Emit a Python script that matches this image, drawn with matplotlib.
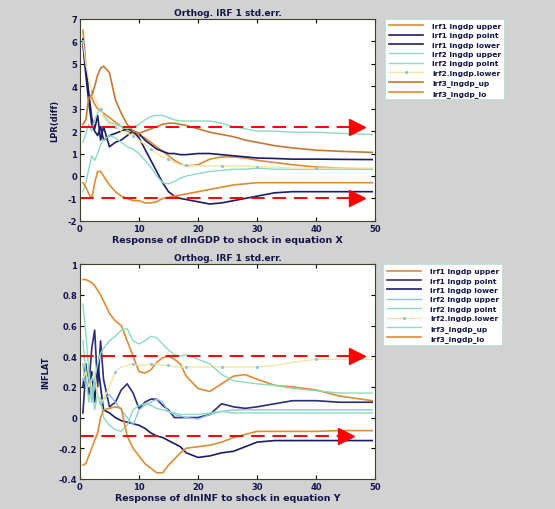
import numpy as np
import matplotlib
matplotlib.use('Agg')
import matplotlib.pyplot as plt

# periods (shared by all series)
steps = [0.5, 1, 1.5, 2, 2.5, 3, 3.5, 4, 5, 6, 7, 8, 9, 10, 11, 12, 13, 14, 15, 16,
         17, 18, 20, 22, 24, 26, 28, 30, 33, 36, 40, 44, 49.5]

labels = ['lrf1 lngdp upper', 'irf1 lngdp point', 'irf1 lngdp lower',
          'lrf2 lngdp upper', 'irf2 lngdp point', 'irf2.lngdp.lower',
          'irf3_lngdp_up', 'irf3_lngdp_lo']

# top panel: response to shock in equation X
top_o1 = [6.5, 5.0, 3.6, 3.5, 3.2, 3.0, 2.9, 2.8, 2.6, 2.4, 2.2, 2.0, 1.9, 1.8, 1.7, 1.5, 1.3,
          1.1, 0.9, 0.7, 0.55, 0.45, 0.5, 0.75, 0.85, 0.85, 0.8, 0.7, 0.6, 0.5, 0.4, 0.35, 0.3]
top_n1 = [6.1, 4.8, 3.7, 2.6, 2.1, 2.7, 1.6, 2.2, 1.3, 1.5, 1.6, 1.8, 2.0, 1.9, 1.6, 1.4, 1.2,
          1.1, 1.0, 1.0, 0.95, 0.95, 1.0, 1.0, 0.95, 0.9, 0.85, 0.8, 0.78, 0.75, 0.75, 0.74, 0.73]
top_n2 = [5.9, 4.5, 3.3, 2.3, 2.0, 1.8, 2.2, 1.6, 1.8, 1.9, 2.0, 2.1, 2.0, 1.7, 1.2, 0.7, 0.2,
          -0.3, -0.7, -0.9, -1.0, -1.05, -1.15, -1.25, -1.2, -1.1, -1.0, -0.9, -0.75, -0.7, -0.7, -0.7, -0.7]
top_t1 = [1.5, 1.9, 2.3, 2.0, 2.5, 2.8, 3.0, 2.7, 2.4, 2.3, 2.2, 2.1, 2.2, 2.3, 2.5, 2.65, 2.7,
          2.7, 2.6, 2.5, 2.45, 2.45, 2.45, 2.45, 2.35, 2.2, 2.1, 2.0, 2.0, 1.95, 1.95, 1.9, 1.85]
top_t2 = [-0.7, -0.3, 0.3, 0.9, 0.7, 1.0, 1.4, 1.6, 1.8, 1.7, 1.5, 1.3, 1.2, 1.0, 0.7, 0.4, 0.0,
          -0.3, -0.35, -0.25, -0.1, 0.0, 0.1, 0.2, 0.25, 0.3, 0.3, 0.35, 0.3, 0.3, 0.3, 0.3, 0.3]
top_y1 = [6.0, 5.0, 4.3, 3.8, 3.5, 3.2, 3.0, 2.6, 2.3, 2.2, 2.0, 1.9, 1.8, 1.6, 1.4, 1.2, 1.0,
          0.85, 0.75, 0.6, 0.5, 0.5, 0.45, 0.45, 0.45, 0.45, 0.45, 0.4, 0.4, 0.35, 0.35, 0.35, 0.35]
top_o2 = [2.3, 2.5, 3.5, 3.6, 4.0, 4.5, 4.8, 4.9, 4.6, 3.4, 2.8, 2.3, 2.0, 1.9, 2.0, 2.1, 2.2,
          2.3, 2.35, 2.35, 2.3, 2.25, 2.1, 1.95, 1.85, 1.75, 1.6, 1.5, 1.35, 1.25, 1.15, 1.1, 1.05]
top_o3 = [-0.3, -0.5, -0.8, -1.0, -0.3, 0.2, 0.2, 0.0, -0.4, -0.7, -0.9, -1.0, -1.1, -1.1, -1.2,
          -1.2, -1.15, -1.0, -0.95, -0.9, -0.85, -0.8, -0.7, -0.6, -0.5, -0.4, -0.35, -0.3, -0.3,
          -0.3, -0.3, -0.3, -0.3]

# bottom panel: response to shock in equation Y
bot_o1 = [0.9, 0.9, 0.89, 0.88, 0.86, 0.83, 0.8, 0.76, 0.68, 0.63, 0.6, 0.5, 0.4, 0.3, 0.29, 0.31,
          0.36, 0.39, 0.4, 0.38, 0.35, 0.27, 0.19, 0.17, 0.22, 0.27, 0.28, 0.25, 0.21, 0.2, 0.18, 0.14, 0.11]
bot_n1 = [0.03, 0.3, 0.2, 0.45, 0.57, 0.2, 0.5, 0.25, 0.07, 0.1, 0.18, 0.22, 0.16, 0.06, 0.1, 0.12,
          0.12, 0.08, 0.05, 0.0, 0.0, 0.0, 0.0, 0.02, 0.09, 0.07, 0.06, 0.07, 0.09, 0.11, 0.11, 0.1, 0.1]
bot_n2 = [0.2, 0.35, 0.15, 0.3, 0.1, 0.35, 0.2, 0.05, 0.03, 0.0, -0.02, -0.03, -0.04, -0.05, -0.07,
          -0.1, -0.12, -0.13, -0.15, -0.17, -0.19, -0.23, -0.26, -0.25, -0.23, -0.22, -0.19, -0.16,
          -0.15, -0.15, -0.15, -0.15, -0.15]
bot_b1 = [0.35, 0.2, 0.28, 0.1, 0.22, 0.15, 0.08, 0.12, 0.15, 0.1, 0.05, 0.0, -0.05, 0.05, 0.08, 0.1,
          0.12, 0.1, 0.04, 0.02, 0.01, 0.0, -0.01, 0.02, 0.04, 0.05, 0.05, 0.05, 0.05, 0.05, 0.05, 0.05, 0.05]
bot_t2 = [0.5, 0.3, 0.1, 0.2, 0.05, 0.15, 0.12, 0.0, -0.05, -0.08, -0.09, -0.05, 0.05, 0.08, 0.09,
          0.08, 0.06, 0.05, 0.04, 0.03, 0.02, 0.02, 0.02, 0.03, 0.04, 0.03, 0.03, 0.03, 0.03, 0.03,
          0.03, 0.03, 0.03]
bot_y1 = [0.25, 0.3, 0.2, 0.25, 0.3, 0.15, 0.1, 0.12, 0.2, 0.3, 0.33, 0.34, 0.35, 0.34, 0.34, 0.35,
          0.35, 0.34, 0.34, 0.33, 0.33, 0.33, 0.33, 0.33, 0.33, 0.33, 0.33, 0.33, 0.34, 0.36, 0.38, 0.38, 0.38]
bot_t1 = [0.74, 0.55, 0.3, 0.15, 0.25, 0.35, 0.42, 0.45, 0.5, 0.53, 0.57, 0.58, 0.5, 0.48, 0.5, 0.53,
          0.52, 0.48, 0.44, 0.41, 0.4, 0.41, 0.38, 0.35, 0.28, 0.24, 0.23, 0.22, 0.21, 0.19, 0.175, 0.16, 0.16]
bot_o3 = [-0.31, -0.3, -0.25, -0.2, -0.15, -0.1, 0.0, 0.05, 0.06, 0.07, 0.06, -0.12, -0.2, -0.25,
          -0.3, -0.33, -0.36, -0.36, -0.31, -0.27, -0.23, -0.2, -0.19, -0.18, -0.16, -0.13, -0.11,
          -0.09, -0.09, -0.09, -0.09, -0.085, -0.085]

top_levels = [2.2, -1.0]
top_tips = [48.3, 48.3]
bot_levels = [0.4, -0.12]
bot_tips = [48.3, 46.3]

top_yticks = [7, 6, 5, 4, 3, 2, 1, 0, -1, -2]
bot_yticks = [1, 0.8, 0.6, 0.4, 0.2, 0, -0.2, -0.4]
xticks = [0, 10, 20, 30, 40, 50]

orange = '#e08c34'
navy = '#1c1c6c'
mint = '#8cdcbc'
lblue = '#8cc4e4'
pale = '#f0e8a0'
brown = '#c87830'

top_styles = [dict(color=orange, lw=1.2), dict(color=navy, lw=1.2), dict(color=navy, lw=1.2),
              dict(color=mint, lw=1.0), dict(color=mint, lw=1.0),
              dict(color=pale, lw=1.0, marker='.', markersize=2.5, markeredgecolor=lblue,
                   markerfacecolor=lblue, markevery=3),
              dict(color=brown, lw=1.2), dict(color=orange, lw=1.2)]
bot_styles = [dict(color=orange, lw=1.2), dict(color='#2c2c80', lw=1.2), dict(color=navy, lw=1.2),
              dict(color=lblue, lw=1.0), dict(color=mint, lw=1.0),
              dict(color=pale, lw=1.0, marker='.', markersize=2.5, markeredgecolor=lblue,
                   markerfacecolor=lblue, markevery=3),
              dict(color=mint, lw=1.0), dict(color=orange, lw=1.2)]

fig = plt.figure(figsize=(5.55, 5.10), dpi=100, facecolor='#d2d2d2')
txt = '#14144a'


def panel(rect, series, styles, yticks, levels, tips, xlabel, ylabel, legpos):
    ax = fig.add_axes(rect)
    lines = []
    for s, lab, st in zip(series, labels, styles):
        ln, = ax.plot(steps, s, label=lab, **st)
        lines.append(ln)
    for lev, tip in zip(levels, tips):
        ax.plot([0, tip - 2.6], [lev, lev], color='red', lw=1.4, ls=(0, (7, 4)))
        ax.plot([tip - 1.3], [lev], marker='>', color='red', markersize=11, ls='none')
    ax.set_xlim(0, 50)
    ax.set_ylim(min(yticks), max(yticks))
    ax.set_xticks(xticks)
    ax.set_yticks(yticks)
    ax.set_yticklabels([f'{t:g}' for t in yticks])
    ax.tick_params(direction='in', length=3, labelsize=6, top=True, right=True, pad=2,
                   labelcolor=txt)
    for lab in ax.get_xticklabels() + ax.get_yticklabels():
        lab.set_fontweight('bold')
    ax.set_title('Orthog. IRF 1 std.err.', fontsize=6.5, color=txt, pad=3, fontweight='bold')
    ax.set_xlabel(xlabel, fontsize=6.8, labelpad=2, color=txt, fontweight='bold')
    ax.set_ylabel(ylabel, fontsize=6, color=txt, labelpad=6, fontweight='bold')
    for sp in ax.spines.values():
        sp.set_color('#404030')
        sp.set_linewidth(0.8)
    leg = fig.legend(handles=lines, loc='upper left', bbox_to_anchor=legpos,
                     prop={'size': 5.4, 'weight': 'bold'},
                     handlelength=4.6, handletextpad=1.2, labelspacing=0.42, borderpad=0.5,
                     fancybox=False, framealpha=1, edgecolor='#c0d8d0', borderaxespad=0)
    for t in leg.get_texts():
        t.set_color(txt)
    leg.get_frame().set_linewidth(1.2)
    return ax


panel([0.144, 0.565, 0.532, 0.396],
      [top_o1, top_n1, top_n2, top_t1, top_t2, top_y1, top_o2, top_o3], top_styles,
      top_yticks, top_levels, top_tips,
      'Response of dlnGDP to shock in equation X', 'LPR(diff)', (0.694, 0.961))
panel([0.144, 0.059, 0.532, 0.421],
      [bot_o1, bot_n1, bot_n2, bot_b1, bot_t2, bot_y1, bot_t1, bot_o3], bot_styles,
      bot_yticks, bot_levels, bot_tips,
      'Response of dlnINF to shock in equation Y', 'INFLAT', (0.690, 0.480))

fig.savefig('out.png', dpi=100, facecolor=fig.get_facecolor())
